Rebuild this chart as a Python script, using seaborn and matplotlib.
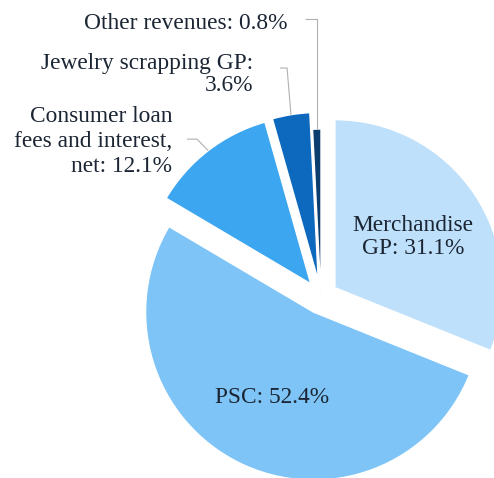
import numpy as np
import matplotlib
matplotlib.use('Agg')
import matplotlib.pyplot as plt
import seaborn as sns

segments = ['Merchandise GP', 'PSC', 'Consumer loan fees and interest, net',
            'Jewelry scrapping GP', 'Other revenues']
shares = [31.1, 52.4, 12.1, 3.6, 0.8]
label_texts = ['Merchandise\nGP: 31.1%', 'PSC: 52.4%',
               'Consumer loan\nfees and interest,\nnet: 12.1%',
               'Jewelry scrapping GP:\n3.6%', 'Other revenues: 0.8%']

colors = ['#BEE0FA', '#7EC4F6', '#3DA6F0', '#0D69BE', '#0B3D6E']
explode = [0.1, 0.1, 0.1, 0.1, 0.0]

sns.set_theme(style='white')
plt.rcParams['font.family'] = ['Liberation Serif', 'DejaVu Serif']

fig = plt.figure(figsize=(4.94, 4.78), dpi=100)
ax = fig.add_axes([0, 0, 1, 1])

wedges, _ = ax.pie(shares, colors=colors, explode=explode, startangle=90,
                   counterclock=False, radius=1,
                   wedgeprops=dict(edgecolor='white', linewidth=1))

txt_color = '#1B2533'
fs = 16.8

# inside labels
ax.text(0.548, 0.357, label_texts[0], ha='center', va='center', fontsize=fs,
        color=txt_color, linespacing=1.15)
ax.text(-0.292, -0.595, label_texts[1], ha='center', va='center', fontsize=fs,
        color=txt_color)

# outside labels with leader lines
outside = {
    2: dict(text_xy=(-0.887, 0.923), elbow=(-0.738, 0.940), start_x=-0.798, ls=1.25),
    3: dict(text_xy=(-0.405, 1.324), elbow=(-0.202, 1.363), start_x=-0.244, ls=1.1),
    4: dict(text_xy=(-0.202, 1.631), elbow=(-0.036, 1.655), start_x=-0.095, ls=1.2),
}
for i, o in outside.items():
    w = wedges[i]
    mid = np.deg2rad((w.theta1 + w.theta2) / 2)
    cx, cy = w.center
    px, py = cx + w.r * np.cos(mid), cy + w.r * np.sin(mid)
    ex, ey = o['elbow']
    if i == 4:
        ex = px
    ax.plot([o['start_x'], ex, px], [ey, ey, py], color='#B0B0B0', lw=0.8,
            solid_capstyle='butt')
    ax.text(*o['text_xy'], label_texts[i], ha='right', va='center', fontsize=fs,
            color=txt_color, linespacing=o['ls'])

ax.set_aspect('auto')
ax.set_xlim(-1.911, 1.030)
ax.set_ylim(-1.077, 1.768)
ax.axis('off')

fig.savefig('out.png', dpi=100, facecolor='white')
